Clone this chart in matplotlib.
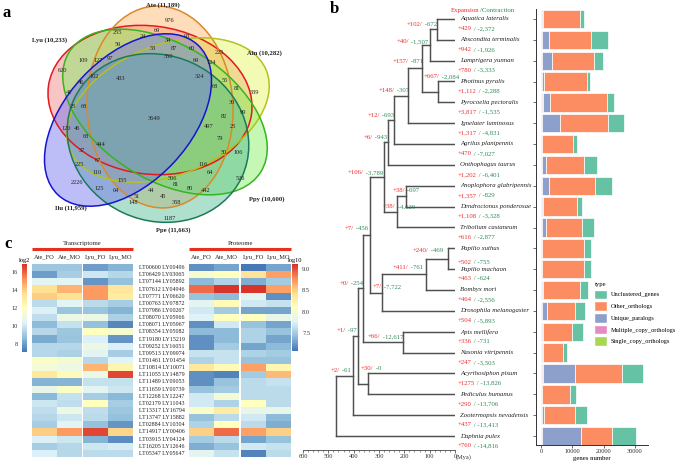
import matplotlib
matplotlib.use('Agg')
import matplotlib.pyplot as plt
import matplotlib.transforms as mtransforms
import numpy as np
from matplotlib.patches import Ellipse, Patch
from matplotlib.colors import LinearSegmentedColormap

plt.rcParams['font.family'] = ['Liberation Serif', 'DejaVu Serif']

# ---------------- data ----------------
# panel a: venn
set_names = ['Lyu (10,233)', 'Ate (11,189)', 'Aln (10,282)', 'Ppy (10,600)', 'Ppe (11,663)', 'Ilu (11,959)']
venn_counts = [976, 255, 24, 69, 93, 34, 60, 59, 53, 87, 225, 109, 127, 97, 350, 69, 124, 620, 46, 102,
               433, 324, 55, 81, 339, 68, 41, 25, 68, 30, 99, 3649, 82, 120, 46, 497, 25, 68, 444, 79,
               37, 67, 50, 106, 225, 110, 116, 64, 526, 2226, 506, 155, 81, 125, 64, 80, 442, 51, 44, 45,
               358, 148, 1187]

# panel b: tree + gene counts
species = ['Aquatica lateralis', 'Abscondita terminalis', 'Lamprigera yunnan', 'Photinus pyralis',
           'Pyrocoelia pectoralis', 'Ignelater luminosus', 'Agrilus planipennis', 'Onthophagus taurus',
           'Anoplophora glabripennis', 'Dendroctonus ponderosae', 'Tribolium castaneum', 'Papilio xuthus',
           'Papilio machaon', 'Bombyx mori', 'Drosophila melanogaster', 'Apis mellifera',
           'Nasonia vitripennis', 'Acyrthosiphon pisum', 'Pediculus humanus', 'Zootermopsis nevadensis',
           'Daphnia pulex']
tip_expansion = ['+429', '+942', '+780', '+1,112', '+3,817', '+1,317', '+470', '+1,202', '+1,357', '+1,108',
                 '+616', '+502', '+463', '+464', '+504', '+336', '+247', '+1275', '+290', '+437', '+760']
tip_contraction = ['-2,372', '-1,926', '-3,333', '-2,288', '-1,535', '-4,831', '-7,027', '-6,401', '-829',
                   '-3,328', '-2,877', '-755', '-624', '-2,556', '-5,893', '-731', '-3,503', '-13,826',
                   '-13,706', '-13,413', '-14,816']
# (age in Mya, children) ; ints are leaf indices
tree = (470, [(403, [(383, [(363, [(336, [(280, [(265, [(241, [(186, [(130, [(99, [(71, [0, 1]), 2]),
                                                                            (67, [3, 4])]), 5]), 6]), 7]),
                                                (229, [(193, [8, 9]), 10])]),
                                          (288, [(114, [(28, [11, 12]), 13]), 14])]),
                                    (205, [15, 16])]),
                              (343, [17, 18])]), 19]), 20])
node_expansion = ['+102/', '+40/', '+157/', '+667/', '+148/', '+12/', '+6/', '+106/', '+38/', '+38/', '+7/',
                  '+240/', '+411/', '+7/', '+0/', '+1/', '+66/', '+30/', '+2/']
node_contraction = [' -672', ' -1,507', ' -871', ' -2,084', ' -307', ' -693', ' -943', ' -3,789', ' -697',
                    ' -4,629', ' -456', ' -469', ' -761', ' -7,722', ' -254', ' -97', ' -12,617', ' -0', ' -61']

single_copy = [250, 250, 250, 250, 250, 250, 250, 250, 250, 250, 250, 250, 250, 250, 250, 250, 250, 250, 250, 250, 250]
multiple_copy = [150, 150, 150, 150, 400, 150, 100, 100, 150, 100, 100, 100, 100, 100, 100, 100, 100, 300, 100, 100, 100]
unique_paralogs = [350, 2200, 3200, 700, 2300, 5600, 100, 1300, 2200, 300, 1200, 100, 100, 400, 1600, 200, 400,
                   10400, 50, 700, 12400]
other_orthologs = [11700, 13300, 13300, 13500, 18300, 15300, 9800, 12200, 14500, 10900, 11700, 13400, 13300,
                   11600, 8800, 9200, 6400, 14900, 8800, 9800, 10100]
unclustered = [1400, 5500, 2900, 1200, 2000, 5200, 1100, 3900, 5600, 1700, 3600, 2100, 2300, 2600, 3200, 3700,
               1000, 6900, 1900, 3900, 7400]

# panel c: heatmaps
gene_pairs = ['LT00600 LY00496', 'LT06429 LY03065', 'LT07144 LY05892', 'LT07612 LY04946', 'LT07771 LY06620',
              'LT00763 LY07872', 'LT07986 LY00267', 'LT08070 LY05966', 'LT08071 LY05967', 'LT08354 LY05082',
              'LT19180 LY15219', 'LT09252 LY16051', 'LT09513 LY09974', 'LT01461 LY01454', 'LT10814 LY10071',
              'LT11055 LY14879', 'LT11489 LY09053', 'LT11659 LY00739', 'LT12268 LY12247', 'LT02179 LY11043',
              'LT13317 LY16794', 'LT13747 LY15882', 'LT02884 LY10304', 'LT14917 LY00406', 'LT03915 LY04124',
              'LT16205 LY12646', 'LT05347 LY05647']
samples = ['Ate_FO', 'Ate_MO', 'Lyu_FO', 'Lyu_MO']
tr_ate_fo = [9.0, 8.0, 10.5, 13.5, 14.0, 9.6, 10.3, 9.7, 8.7, 9.5, 8.3, 9.5, 9.5, 11.8, 11.3, 13.2, 8.5, 10.8,
             8.6, 10.0, 9.7, 9.5, 9.2, 14.0, 10.3, 9.2, 10.3]
tr_ate_mo = [9.0, 9.2, 10.5, 14.5, 13.5, 10.5, 8.9, 11.0, 9.8, 9.0, 8.9, 9.5, 9.3, 11.5, 11.0, 12.3, 8.5, 11.8,
             9.8, 9.7, 11.0, 10.0, 10.5, 15.0, 10.0, 9.5, 9.5]
tr_lyu_fo = [8.0, 10.0, 7.8, 15.0, 15.0, 9.6, 8.9, 11.0, 8.8, 12.0, 10.3, 11.0, 10.5, 9.5, 14.5, 11.0, 9.8,
             10.5, 9.2, 12.0, 9.7, 9.6, 8.8, 16.5, 8.5, 10.0, 9.6]
tr_lyu_mo = [8.5, 9.5, 8.8, 13.3, 13.0, 9.2, 8.5, 9.3, 7.5, 11.5, 7.8, 10.3, 9.2, 10.5, 12.5, 16.5, 9.8, 10.0,
             8.6, 9.2, 9.0, 8.8, 7.8, 13.8, 7.6, 10.2, 9.6]
pr_ate_fo = [7.2, 8.0, 7.4, 8.9, 7.45, 7.8, 7.7, 7.75, 7.2, 7.4, 7.2, 7.2, 7.65, 7.55, 8.35, 7.2, 7.2, 7.45,
             7.7, 7.7, 8.05, 7.45, 7.55, 8.5, 7.5, 7.35, 7.8]
pr_ate_mo = [7.3, 8.1, 7.55, 9.1, 7.4, 8.15, 7.5, 8.1, 7.7, 7.4, 7.4, 7.5, 7.65, 7.65, 8.15, 7.15, 7.45, 7.5,
             7.95, 7.55, 8.3, 7.6, 8.1, 8.9, 7.6, 7.45, 7.65]
pr_lyu_fo = [7.1, 8.4, 7.35, 9.1, 7.8, 7.7, 7.3, 8.1, 7.45, 7.55, 7.55, 7.3, 7.55, 7.45, 8.7, 7.5, 7.6, 7.6,
             7.6, 8.1, 7.85, 7.7, 7.6, 8.7, 7.3, 7.7, 7.15]
pr_lyu_mo = [7.3, 8.7, 7.5, 8.7, 7.2, 7.65, 7.3, 7.85, 7.3, 7.45, 7.3, 7.4, 7.5, 7.45, 8.2, 8.6, 7.65, 7.6,
             7.6, 7.6, 7.85, 7.4, 7.35, 8.5, 7.45, 7.65, 7.6]

RED = '#ee2c2c'
GREEN = '#2e8b57'
BC = '#505050'
W, H = 677, 466
TREE_XLIM = (600, 0)
TREE_YLIM = (20.67, -0.9)


def walk(ax, node):
    # rectangular cladogram: vertical at each node, horizontals out to the children
    if isinstance(node, int):
        return 0, node
    age, kids = node
    pts = [walk(ax, k) for k in kids]
    ys = [p[1] for p in pts]
    ax.plot([age, age], [min(ys), max(ys)], color=BC, lw=0.9)
    for (ka, ky) in pts:
        ax.plot([age, ka], [ky, ky], color=BC, lw=0.9)
    return age, sum(ys) / len(ys)


# branches are rendered on their own small figure first, then placed on the main one
sub = plt.figure(figsize=(152 / 100, 450 / 100), dpi=100)
sub.patch.set_alpha(0)
sax = sub.add_axes([0, 0, 1, 1])
sax.set_xlim(*TREE_XLIM)
sax.set_ylim(*TREE_YLIM)
sax.axis('off')
walk(sax, tree)
sub.canvas.draw()
branch_img = np.asarray(sub.canvas.buffer_rgba()).copy()
plt.close(sub)

fig = plt.figure(figsize=(W / 100, H / 100), dpi=100)


def px_axes(x0, y0, x1, y1):
    return fig.add_axes([x0 / W, 1 - y1 / H, (x1 - x0) / W, (y1 - y0) / H])


renderer = fig.canvas.get_renderer()


def two_tone(ax, x, y, a, b, size, **kw):
    t = ax.text(x, y, a, color=RED, fontsize=size, ha='left', va='center', clip_on=False, **kw)
    w = t.get_window_extent(renderer).width * 72 / fig.dpi
    ax.annotate(b, xy=(x, y), xytext=(w, 0), textcoords='offset points', color=GREEN, fontsize=size,
                ha='left', va='center', annotation_clip=False, **kw)


# ---------------- a: venn ----------------
ax_v = px_axes(0, 0, 300, 236)
ax_v.set_xlim(0, 300)
ax_v.set_ylim(236, 0)
ax_v.axis('off')
shapes = [((150, 100), 205, 148, 8, '#e31a1c', '#f08080'),
          ((160, 107), 146, 202, -3, '#d98a2b', '#ffb366'),
          ((168, 110), 212, 130, -22, '#b5c21e', '#e3f55a'),
          ((165, 112), 226, 135, 32, '#36b51f', '#7fee5c'),
          ((158, 138), 185, 165, 25, '#1c7a5a', '#4fb890'),
          ((128, 120), 205, 125, -47, '#1515d0', '#6e6ef0')]
for (c, ew, eh, ang, ec, fc) in shapes:
    ax_v.add_patch(Ellipse(c, ew, eh, angle=ang, facecolor=fc, alpha=0.45, edgecolor='none'))
for (c, ew, eh, ang, ec, fc) in shapes:
    ax_v.add_patch(Ellipse(c, ew, eh, angle=ang, facecolor='none', edgecolor=ec, lw=1.1))
count_pos = [(170, 20), (117, 32), (143, 36), (157, 31), (187, 36), (168, 40), (192, 48), (118, 45), (153, 48),
             (174, 49), (219, 53), (83, 61), (98, 61), (110, 58), (168, 57), (196, 61), (211, 62), (62, 70),
             (81, 83), (94, 77), (121, 79), (199, 77), (225, 81), (237, 88), (254, 93), (215, 87), (69, 92),
             (73, 107), (84, 107), (232, 103), (243, 113), (154, 119), (224, 116), (66, 128), (77, 128),
             (209, 127), (233, 127), (86, 137), (101, 145), (220, 139), (82, 150), (98, 161), (224, 153),
             (238, 153), (79, 164), (97, 173), (203, 165), (210, 173), (240, 178), (77, 183), (172, 178),
             (122, 181), (176, 184), (99, 188), (116, 190), (190, 188), (206, 190), (137, 196), (151, 191),
             (163, 197), (176, 202), (133, 203), (170, 218)]
for n, (x, y) in zip(venn_counts, count_pos):
    ax_v.text(x, y, str(n), fontsize=4.6, ha='center', va='center', color='#222222')
label_pos = [(50, 40), (163, 5), (264, 53), (267, 199), (173, 230), (71, 208)]
for s, (x, y) in zip(set_names, label_pos):
    ax_v.text(x, y, s, fontsize=4.8, fontweight='bold', ha='center', va='center', color='#222222')

# ---------------- b: tree axis + labels ----------------
ax_t = px_axes(303, 0, 455, 450)
ax_t.patch.set_visible(False)
ax_t.set_xlim(*TREE_XLIM)
ax_t.set_ylim(*TREE_YLIM)
for sp in ['top', 'right', 'left']:
    ax_t.spines[sp].set_visible(False)
ax_t.spines['bottom'].set_color('#444444')
ax_t.spines['bottom'].set_linewidth(0.6)
ax_t.set_yticks([])
ax_t.set_xticks([600, 500, 400, 300, 200, 100, 0])
ax_t.set_xticklabels(['600', '500', '400', '300', '200', '100', '0'])
ax_t.set_xticks(np.arange(0, 601, 20), minor=True)
ax_t.tick_params(axis='x', which='major', labelsize=4.6, length=2, width=0.5, pad=1, colors='#333333')
ax_t.tick_params(axis='x', which='minor', length=1.2, width=0.4, colors='#444444')
ax_t.text(-4, 20.67 + 0.36, '(Mya)', fontsize=4.6, ha='left', va='center', color='#333333', clip_on=False)
walk(ax_t, tree)

for i, name in enumerate(species):
    ax_t.text(-20, i, name, fontsize=4.9, style='italic', ha='left', va='center', color='#222222',
              clip_on=False)
    off = 0.67 if i == 11 else 0.47
    two_tone(ax_t, -12, i + off, tip_expansion[i], ' / ' + tip_contraction[i], 4.9)

node_pos = [(189, 0.29), (229, 1.10), (245, 2.06), (122, 2.78), (300, 3.45), (343, 4.65), (359, 5.71),
            (422, 7.39), (245, 8.25), (284, 9.02), (434, 10.07), (166, 11.13), (245, 11.94), (324, 12.85),
            (454, 12.71), (466, 14.92), (343, 15.25), (371, 16.74), (490, 16.88)]
for (x, y), a, b in zip(node_pos, node_expansion, node_contraction):
    two_tone(ax_t, x, y, a, b, 4.9)
two_tone(ax_t, 16, -0.38, 'Expansion', '/Contraction', 4.9)

# ---------------- b: bars ----------------
ax_b = px_axes(536, 9, 648, 445)
yy = np.arange(len(species))
series = [('Single_copy_orthologs', single_copy, '#a6d854'),
          ('Multiple_copy_orthologs', multiple_copy, '#e78ac3'),
          ('Unique_paralogs', unique_paralogs, '#8da0cb'),
          ('Other_orthologs', other_orthologs, '#fc8d62'),
          ('Unclustered_genes', unclustered, '#66c2a5')]
left = np.zeros(len(species))
for name, vals, col in series:
    ax_b.barh(yy, vals, left=left, height=0.88, color=col, edgecolor='white', linewidth=0.5)
    left = left + np.array(vals)
ax_b.set_xlim(-1600, 34200)
ax_b.set_ylim(20.43, -0.48)
ax_b.set_yticks(yy)
ax_b.set_yticklabels([])
ax_b.set_xticks([0, 10000, 20000, 30000])
ax_b.tick_params(axis='both', labelsize=4.6, length=2, width=0.5, pad=1, colors='#333333')
for sp in ['top', 'right']:
    ax_b.spines[sp].set_visible(False)
for sp in ['left', 'bottom']:
    ax_b.spines[sp].set_color('#333333')
    ax_b.spines[sp].set_linewidth(0.7)
ax_b.set_xlabel('genes number', fontsize=4.9, labelpad=1.5)
handles = [Patch(facecolor=c, edgecolor='white', label=n) for n, v, c in series[::-1]]
fig.legend(handles=handles, title='type', loc='upper left', bbox_to_anchor=(590 / W, 1 - 278 / H),
           frameon=False, fontsize=4.6, title_fontsize=4.8, handlelength=1.9, handleheight=1.9,
           labelspacing=0.35, handletextpad=0.6, borderpad=0.2, alignment='left')

# ---------------- c: heatmaps ----------------
cmap = LinearSegmentedColormap.from_list('ph', ['#4575B4', '#91BFDB', '#E0F3F8', '#FFFFBF', '#FEE090',
                                                '#FC8D59', '#D73027'])
nrow = len(gene_pairs)
gap = 0.06


def heat(ax, cols, vmin, vmax, title):
    m = None
    for k in range(2):
        x0 = k * (2 + gap)
        arr = np.column_stack([cols[2 * k], cols[2 * k + 1]])
        m = ax.pcolormesh([x0, x0 + 1, x0 + 2], np.arange(nrow + 1), arr, cmap=cmap, vmin=vmin, vmax=vmax)
    ax.set_xlim(0, 4 + gap)
    ax.set_ylim(nrow, 0)
    ax.axis('off')
    for j, s in enumerate(samples):
        xc = j + 0.5 + (gap if j >= 2 else 0)
        ax.text(xc, -0.95, s, fontsize=4.6, ha='center', va='center', color='#222222')
    ax.plot([0, 4 + gap], [-2.1, -2.1], color='#e8301c', lw=2.2, clip_on=False, solid_capstyle='butt')
    ax.text((4 + gap) / 2, -2.85, title, fontsize=4.8, ha='center', va='center', color='#222222')
    return m


ax_h1 = px_axes(32, 264, 133, 457)
m1 = heat(ax_h1, [tr_ate_fo, tr_ate_mo, tr_lyu_fo, tr_lyu_mo], 7.1, 16.9, 'Transcriptome')
ax_h2 = px_axes(189, 264, 291, 457)
m2 = heat(ax_h2, [pr_ate_fo, pr_ate_mo, pr_lyu_fo, pr_lyu_mo], 7.08, 9.12, 'Proteome')

trans = mtransforms.blended_transform_factory(fig.transFigure, ax_h1.transData)
for i, g in enumerate(gene_pairs):
    ax_h1.text(162 / W, i + 0.5, g, transform=trans, fontsize=4.3, ha='center', va='center', color='#222222')

cax1 = px_axes(22, 264, 27, 352)
cb1 = fig.colorbar(m1, cax=cax1)
cb1.set_ticks([8, 10, 12, 14, 16])
cax1.yaxis.set_ticks_position('left')
cax1.tick_params(length=0, labelsize=4.6, pad=3, colors='#333333')
cb1.outline.set_visible(False)
cax1.text(0.5, 1.01, 'log2', transform=cax1.transAxes, fontsize=4.6, ha='center', va='bottom')

cax2 = px_axes(292, 264, 298, 351)
cb2 = fig.colorbar(m2, cax=cax2)
cb2.set_ticks([7.5, 8, 8.5, 9])
cax2.tick_params(length=0, labelsize=4.6, pad=3, colors='#333333')
cb2.outline.set_visible(False)
cax2.text(0.5, 1.01, 'log10', transform=cax2.transAxes, fontsize=4.6, ha='center', va='bottom')

# place the pre-rendered branches over the tree area
fig.figimage(branch_img, xo=303, yo=H - 450, origin='upper', zorder=10)

# panel letters
for s, (x, y) in zip(['a', 'b', 'c'], [(7, 13), (334, 9), (8, 244)]):
    fig.text(x / W, 1 - y / H, s, fontsize=12, fontweight='bold', ha='center', va='center')

fig.savefig('out.png', dpi=100)
